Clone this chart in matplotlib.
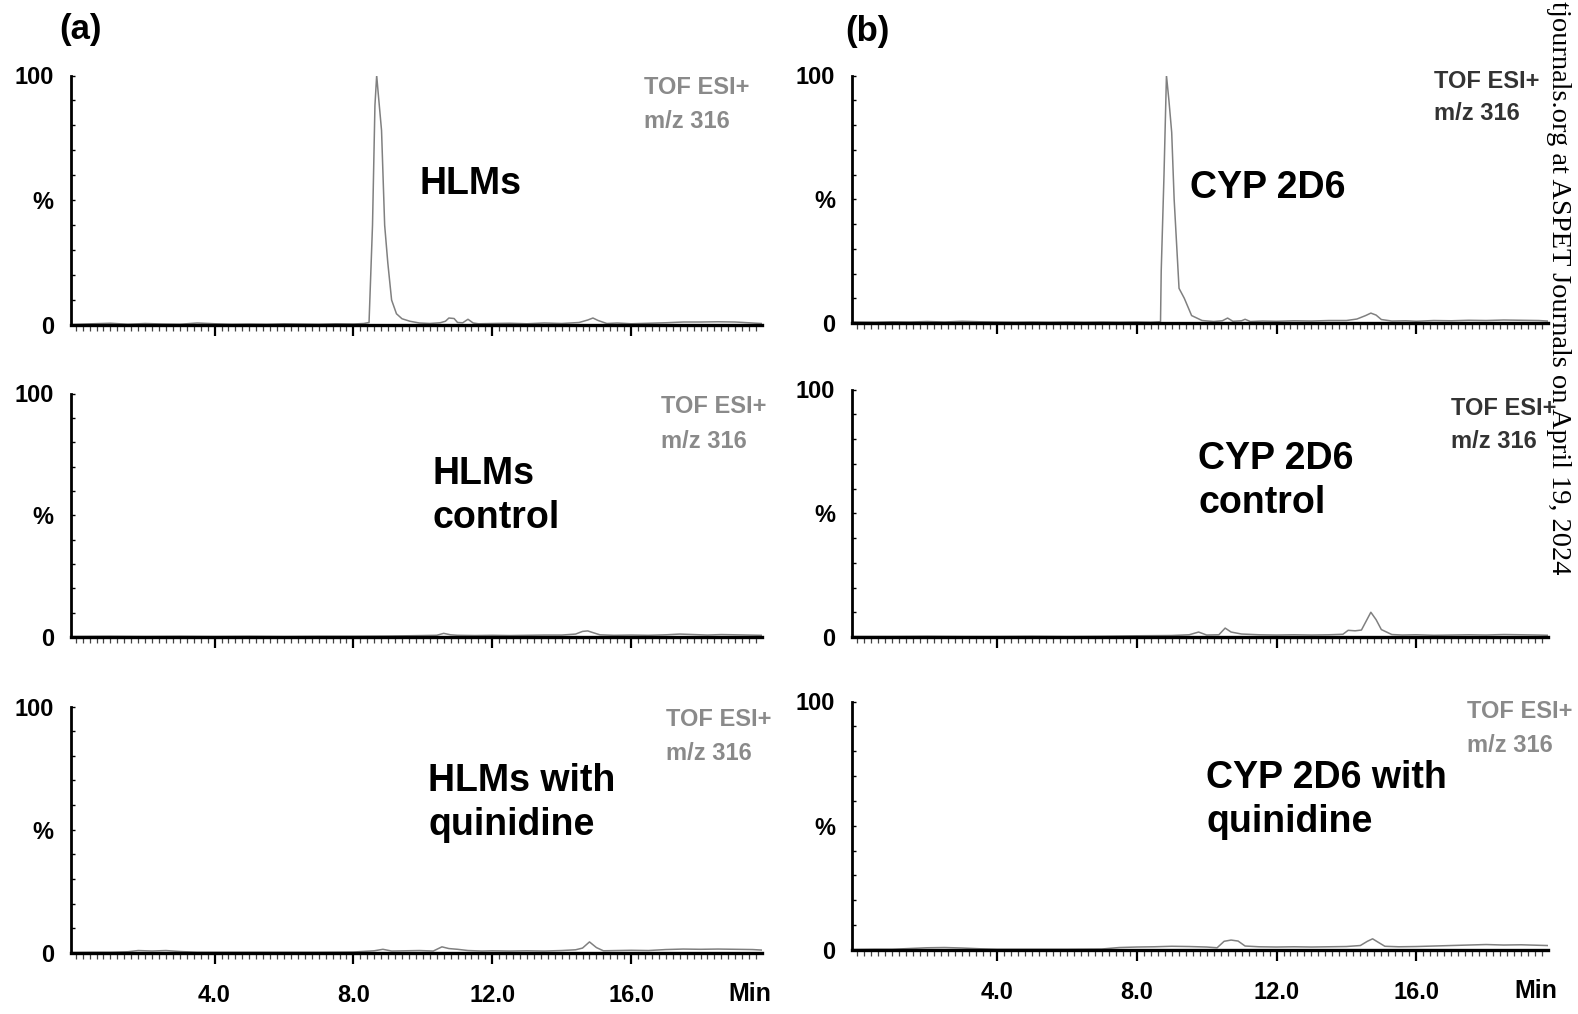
import matplotlib
matplotlib.use("Agg")
import matplotlib.pyplot as plt
from matplotlib.ticker import MultipleLocator, FixedLocator

plt.rcParams['font.family'] = ['Liberation Sans', 'DejaVu Sans']

W, H = 1578, 1014

# retention time (min) and relative intensity (%)
t_hlm = [-0.1, 0.5, 1.0, 1.5, 2.0, 2.5, 3.0, 3.5, 4.0, 4.5, 5.0, 5.5, 6.0, 6.5, 7.0, 7.5, 8.0, 8.3,
         8.45, 8.55, 8.62, 8.67, 8.72, 8.81, 8.90, 8.99, 9.10, 9.24, 9.40, 9.63, 9.9, 10.2, 10.5,
         10.65, 10.75, 10.9, 11.0, 11.15, 11.3, 11.45, 11.6, 12.0, 12.5, 13.0, 13.5, 14.0, 14.5,
         14.75, 14.9, 15.05, 15.3, 15.6, 16.0, 16.5, 17.0, 17.5, 18.0, 18.5, 19.0, 19.5, 19.75]
i_hlm = [0.2, 0.5, 0.7, 0.3, 0.6, 0.4, 0.3, 0.8, 0.5, 0.3, 0.4, 0.3, 0.5, 0.4, 0.3, 0.5, 0.4, 0.6,
         1.0, 40, 88, 100, 92, 78, 40, 25, 10, 4.5, 2.5, 1.5, 0.8, 0.6, 0.9,
         1.5, 2.8, 2.6, 1.0, 0.9, 2.3, 0.8, 0.5, 0.6, 0.7, 0.5, 0.8, 0.6, 1.0,
         2.0, 2.8, 1.8, 0.6, 0.8, 0.5, 0.7, 0.9, 1.2, 1.2, 1.3, 1.2, 0.8, 0.6]

t_hlm_ctrl = [-0.1, 1.0, 2.0, 3.0, 4.0, 5.0, 6.0, 7.0, 8.0, 9.0, 9.5, 10.0, 10.4, 10.6, 10.8, 11.0,
              11.5, 12.0, 12.5, 13.0, 13.5, 14.0, 14.4, 14.6, 14.75, 14.9, 15.1, 15.5, 16.0, 16.5,
              17.0, 17.4, 17.8, 18.2, 18.6, 19.0, 19.4, 19.75]
i_hlm_ctrl = [0.2, 0.3, 0.2, 0.3, 0.2, 0.3, 0.2, 0.3, 0.3, 0.4, 0.5, 0.6, 0.7, 1.5, 0.9, 0.7,
              0.6, 0.7, 0.6, 0.7, 0.8, 0.8, 1.2, 2.3, 2.5, 1.8, 0.9, 0.7, 0.8, 0.7,
              0.9, 1.2, 1.0, 0.8, 1.0, 0.9, 0.8, 0.7]

t_hlm_quin = [-0.1, 0.5, 1.0, 1.5, 1.8, 2.2, 2.6, 3.0, 3.5, 4.0, 5.0, 6.0, 7.0, 8.0, 8.6, 8.85,
              9.1, 9.5, 9.9, 10.3, 10.55, 10.75, 11.0, 11.3, 11.7, 12.0, 12.5, 13.0, 13.5, 14.0,
              14.4, 14.6, 14.8, 15.0, 15.2, 15.6, 16.0, 16.5, 17.0, 17.5, 18.0, 18.5, 19.0, 19.5, 19.75]
i_hlm_quin = [0.2, 0.3, 0.3, 0.5, 1.0, 0.8, 1.0, 0.6, 0.3, 0.3, 0.3, 0.3, 0.3, 0.4, 0.9, 1.5,
              0.8, 0.9, 1.0, 0.8, 2.5, 1.8, 1.5, 1.0, 0.8, 0.9, 0.8, 0.9, 0.8, 1.0,
              1.3, 2.0, 4.5, 2.2, 0.9, 1.0, 1.1, 1.0, 1.4, 1.6, 1.5, 1.6, 1.5, 1.4, 1.2]

t_cyp = [-0.1, 0.5, 1.0, 1.5, 2.0, 2.5, 3.0, 3.5, 4.0, 4.5, 5.0, 5.5, 6.0, 6.5, 7.0, 7.5, 8.0, 8.4,
         8.68, 8.70, 8.78, 8.85, 8.92, 9.0, 9.07, 9.21, 9.36, 9.57, 9.87, 10.2, 10.45, 10.6, 10.75,
         11.0, 11.1, 11.25, 11.6, 12.0, 12.5, 13.0, 13.5, 14.0, 14.3, 14.55, 14.7, 14.85, 15.0,
         15.3, 15.7, 16.0, 16.5, 17.0, 17.5, 18.0, 18.5, 19.0, 19.5, 19.75]
i_cyp = [0.4, 0.3, 0.5, 0.4, 0.6, 0.4, 0.7, 0.5, 0.4, 0.3, 0.4, 0.3, 0.4, 0.3, 0.4, 0.3, 0.4, 0.3,
         0.5, 21, 60, 100, 90, 77, 50, 14, 10, 3, 1.0, 0.6, 0.9, 2.0, 0.7,
         0.9, 1.5, 0.6, 0.8, 0.7, 0.9, 0.8, 1.0, 1.0, 1.6, 3.0, 4.0, 3.2, 1.4,
         0.8, 0.9, 0.7, 1.0, 0.9, 1.1, 1.0, 1.2, 1.1, 1.0, 0.8]

t_cyp_ctrl = [-0.1, 1.0, 2.0, 3.0, 4.0, 5.0, 6.0, 7.0, 8.0, 9.0, 9.5, 9.77, 10.0, 10.35, 10.53,
              10.7, 11.0, 11.5, 12.0, 12.5, 13.0, 13.5, 13.9, 14.05, 14.25, 14.43, 14.55, 14.7,
              14.85, 15.0, 15.3, 15.6, 16.0, 16.5, 17.0, 17.5, 18.0, 18.5, 19.0, 19.5, 19.75]
i_cyp_ctrl = [0.2, 0.2, 0.3, 0.2, 0.2, 0.3, 0.2, 0.3, 0.5, 0.6, 0.9, 2.0, 0.8, 0.9, 3.6,
              2.0, 1.2, 0.9, 0.8, 0.9, 0.8, 0.9, 1.1, 2.7, 2.5, 2.8, 6.0, 10.0,
              7.0, 3.0, 1.0, 0.8, 0.9, 0.7, 0.8, 0.9, 0.8, 1.0, 0.9, 0.8, 0.7]

t_cyp_quin = [-0.1, 0.5, 1.0, 1.5, 2.0, 2.5, 3.0, 3.5, 4.0, 5.0, 6.0, 7.0, 7.5, 8.0, 8.5, 9.0,
              9.5, 10.0, 10.3, 10.5, 10.7, 10.9, 11.1, 11.5, 12.0, 12.5, 13.0, 13.5, 14.0, 14.4,
              14.6, 14.75, 14.9, 15.1, 15.5, 16.0, 16.5, 17.0, 17.5, 18.0, 18.5, 19.0, 19.5, 19.75]
i_cyp_quin = [0.2, 0.3, 0.3, 0.6, 0.9, 1.0, 0.8, 0.5, 0.3, 0.3, 0.3, 0.4, 1.0, 1.2, 1.3, 1.5,
              1.4, 1.2, 0.9, 3.5, 4.0, 3.6, 1.6, 1.3, 1.2, 1.3, 1.2, 1.3, 1.4, 1.8,
              3.5, 4.5, 3.2, 1.5, 1.3, 1.4, 1.6, 1.8, 2.0, 2.2, 2.0, 2.1, 1.9, 1.8]

sample_labels = ["HLMs", "HLMs\ncontrol", "HLMs with\nquinidine",
                 "CYP 2D6", "CYP 2D6\ncontrol", "CYP 2D6 with\nquinidine"]
x_ticks = [4, 8, 12, 16]
x_ticklabels = ["4.0", "8.0", "12.0", "16.0"]
y_ticklabels = ["0", "%", "100"]

traces = [(t_hlm, i_hlm), (t_hlm_ctrl, i_hlm_ctrl), (t_hlm_quin, i_hlm_quin),
          (t_cyp, i_cyp), (t_cyp_ctrl, i_cyp_ctrl), (t_cyp_quin, i_cyp_quin)]

# axes boxes in pixels: left, right, y of 100 %, y of 0 %
boxes = [(70.5, 762, 75.5, 325), (70.5, 762, 393.5, 637), (70.5, 762, 706.5, 953),
         (852, 1548, 75.5, 323), (852, 1548, 389.5, 637), (852, 1548, 701.5, 950)]
# sample label: left x, centre y of block
label_pos = [(420, 184), (433, 496), (428, 803), (1190, 188), (1198, 481), (1206, 800)]
# TOF block: left x, y of first line, y of second line, colour
tof_pos = [(644, 88, 121, '#8a8a8a'), (661, 407, 441, '#8a8a8a'), (666, 720, 753, '#8a8a8a'),
           (1434, 81, 114, '#333333'), (1451, 408, 441, '#333333'), (1467, 712, 745, '#8a8a8a')]

fig = plt.figure(figsize=(W / 100, H / 100), dpi=100)

def fx(x):
    return x / W

def fy(y):
    return 1 - y / H

for k, (t, inten) in enumerate(traces):
    l, r, ytop, ybot = boxes[k]
    ax = fig.add_axes([fx(l), fy(ybot), (r - l) / W, (ybot - ytop) / H])
    ax.plot(t, inten, color='#808080', lw=1.1, zorder=1)
    ax.set_xlim(-0.15, 19.77)
    ax.set_ylim(0, 100)
    for s in ['top', 'right']:
        ax.spines[s].set_visible(False)
    ax.spines['left'].set_linewidth(2)
    ax.spines['bottom'].set_linewidth(2.4)
    ax.spines['bottom'].set_zorder(3)

    ax.yaxis.set_major_locator(FixedLocator([0, 50, 100]))
    ax.set_yticklabels(y_ticklabels, fontsize=17, fontweight='bold')
    ax.yaxis.set_minor_locator(MultipleLocator(10))
    ax.tick_params(axis='y', which='both', direction='in', length=3, width=1, pad=12)

    ax.xaxis.set_major_locator(FixedLocator(x_ticks))
    ax.xaxis.set_minor_locator(MultipleLocator(0.2))
    ax.tick_params(axis='x', which='major', direction='out', length=8, width=1.6, pad=14.5)
    ax.tick_params(axis='x', which='minor', direction='out', length=4.5, width=0.9,
                   color='#444444')
    if k in (2, 5):
        ax.set_xticklabels(x_ticklabels, fontsize=17, fontweight='bold')
        ax.text(19.43, -0.165, "Min", transform=ax.get_xaxis_transform(),
                ha='center', va='center', fontsize=18, fontweight='bold')
    else:
        ax.set_xticklabels([])

    lx, ly = label_pos[k]
    fig.text(fx(lx), fy(ly), sample_labels[k], ha='left', va='center',
             fontsize=27, fontweight='bold', linespacing=1.32)
    tx, ty1, ty2, tc = tof_pos[k]
    fig.text(fx(tx), fy(ty1), "TOF ESI+", ha='left', va='center',
             fontsize=17, fontweight='bold', color=tc)
    fig.text(fx(tx), fy(ty2), "m/z 316", ha='left', va='center',
             fontsize=17, fontweight='bold', color=tc)

fig.text(fx(80.5), fy(30), "(a)", ha='center', va='center', fontsize=25, fontweight='bold')
fig.text(fx(867), fy(32), "(b)", ha='center', va='center', fontsize=25, fontweight='bold')

fig.text(fx(1558), fy(1), "tjournals.org at ASPET Journals on April 19, 2024",
         rotation=270, ha='center', va='top', fontsize=20.5,
         family=['Liberation Serif', 'DejaVu Serif'])

fig.savefig("out.png", dpi=100)
